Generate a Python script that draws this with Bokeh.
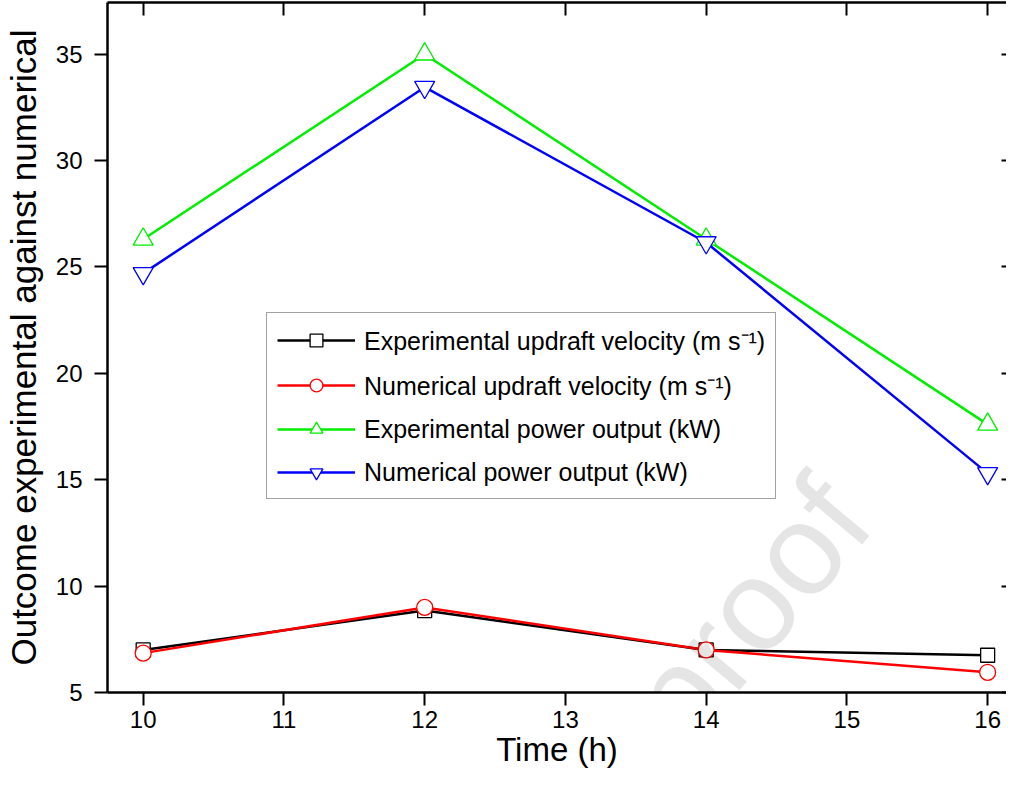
from bokeh.plotting import figure
from bokeh.models import (Range1d, LinearAxis, SingleIntervalTicker, Legend, LegendItem,
                          CustomJSTickFormatter, Label)
from bokeh.embed import file_html
from bokeh.resources import INLINE

# ---- data ----
time_h = [10, 12, 14, 16]
exp_velocity = [7.0, 8.85, 7.0, 6.75]
num_velocity = [6.85, 9.0, 7.0, 5.95]
exp_power = [26.3, 35.0, 26.3, 17.6]
num_power = [24.7, 33.45, 26.15, 15.3]

labels = [
    "Experimental updraft velocity (m s\u207b\u00b9)",
    "Numerical updraft velocity (m s\u207b\u00b9)",
    "Experimental power output (kW)",
    "Numerical power output (kW)",
]
colors = ["#000000", "#ff0000", "#00ee00", "#0000ff"]
watermark_text = "Journal Pre-proof"

FONT = "Liberation Sans"

p = figure(width=1006, height=776, output_backend="svg", toolbar_location=None,
           x_range=Range1d(9.7465, 16.134), y_range=Range1d(5, 37.43),
           min_border_left=99, min_border_right=0, min_border_top=2, min_border_bottom=84)
p.outline_line_color = None
p.xgrid.visible = False
p.ygrid.visible = False
p.background_fill_color = "white"
p.border_fill_color = "white"

def style_axis(ax):
    ax.axis_line_width = 2.5
    ax.axis_line_color = "black"
    ax.major_tick_line_width = 2
    ax.major_tick_line_color = "black"
    ax.minor_tick_line_color = None
    ax.major_label_text_font = FONT
    ax.major_label_text_color = "black"
    ax.axis_label_text_font = FONT
    ax.axis_label_text_font_style = "normal"
    ax.axis_label_text_color = "black"

xa = p.xaxis[0]
xa.ticker = SingleIntervalTicker(interval=1, num_minor_ticks=0)
style_axis(xa)
xa.major_tick_out = 13
xa.major_tick_in = 0
xa.major_label_text_font_size = "24px"
xa.major_label_standoff = 5
xa.axis_label = "Time (h)"
xa.axis_label_text_font_size = "33px"
xa.axis_label_standoff = 0

ya = p.yaxis[0]
ya.ticker = SingleIntervalTicker(interval=5, num_minor_ticks=0)
style_axis(ya)
ya.major_tick_out = 13
ya.major_tick_in = 0
ya.major_label_text_font_size = "24px"
ya.major_label_standoff = 12
ya.axis_label = "Outcome experimental against numerical"
ya.axis_label_text_font_size = "35px"
ya.axis_label_standoff = 10

top = LinearAxis(ticker=SingleIntervalTicker(interval=1, num_minor_ticks=0),
                 formatter=CustomJSTickFormatter(code="return ''"))
style_axis(top)
top.major_tick_in = 13
top.major_tick_out = 0
top.major_label_standoff = 0
top.axis_label_standoff = 0
p.add_layout(top, "above")

right = LinearAxis(ticker=SingleIntervalTicker(interval=5, num_minor_ticks=0),
                   formatter=CustomJSTickFormatter(code="return ''"))
style_axis(right)
right.axis_line_alpha = 0
right.major_tick_in = 5
right.major_tick_out = 0
right.major_label_standoff = 0
right.axis_label_standoff = 0
p.add_layout(right, "right")

series = [exp_velocity, num_velocity, exp_power, num_power]
markers = ["square", "circle", "triangle", "inverted_triangle"]
sizes = [14, 16, 20, 20]
items = []
for ys, c, m, s, lab in zip(series, colors, markers, sizes, labels):
    r1 = p.line(time_h, ys, line_color=c, line_width=2.5)
    r2 = p.scatter(time_h, ys, marker=m, size=s, line_color=c, line_width=1.3,
                   fill_color="white")
    items.append(LegendItem(label=lab, renderers=[r1, r2]))

# faint diagonal watermark of the source page
wm = Label(x=14.975, y=14.2, text=watermark_text, angle=50, angle_units="deg",
           text_align="right", text_baseline="alphabetic", text_font=FONT,
           text_font_size="130px", text_color="black", text_alpha=0.1)
p.add_layout(wm)

legend = Legend(items=items, location=(159, 193))
legend.label_text_font = FONT
legend.label_text_font_size = "25px"
legend.label_text_color = "black"
legend.glyph_width = 78
legend.glyph_height = 32
legend.label_height = 32
legend.label_standoff = 9
legend.spacing = 11
legend.padding = 10
legend.margin = 0
legend.border_line_color = "#444444"
legend.border_line_width = 1.5
legend.background_fill_alpha = 1
p.add_layout(legend, "center")

open("out.html", "w").write(file_html(p, INLINE))
